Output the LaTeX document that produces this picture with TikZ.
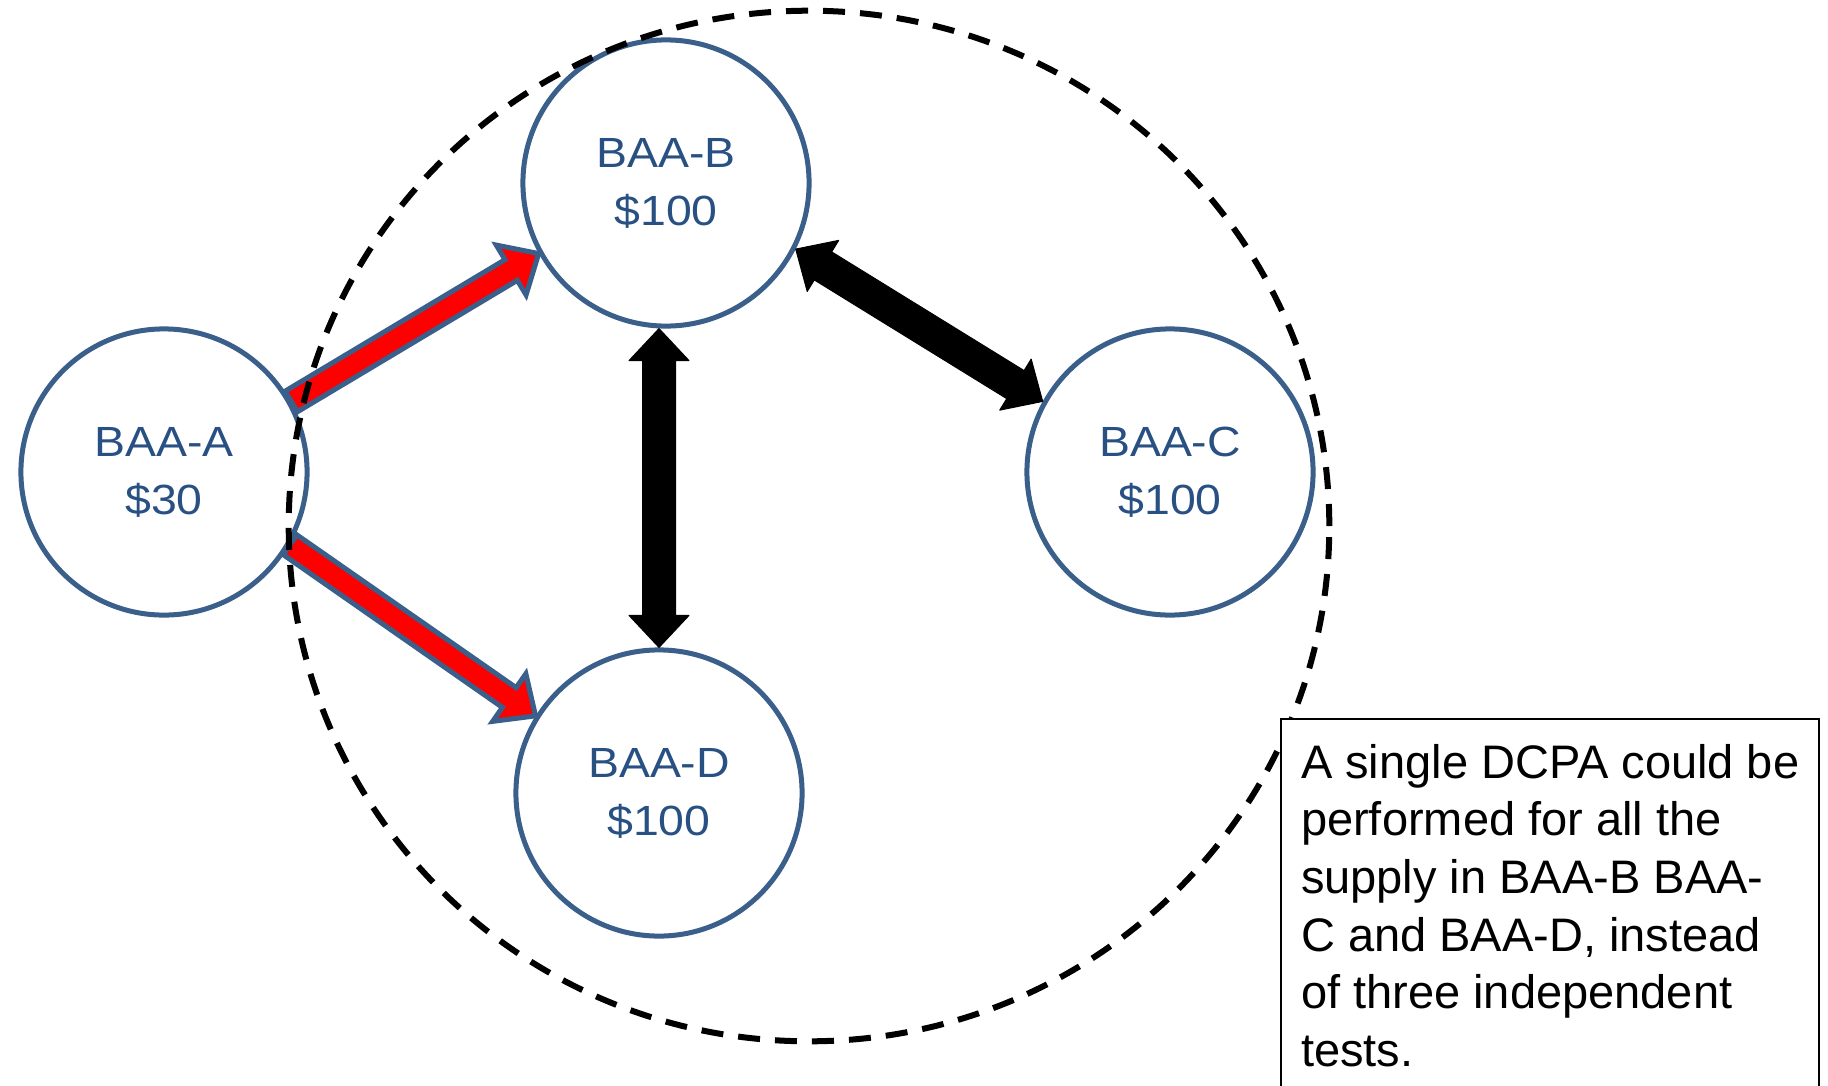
\documentclass[tikz,border=0pt]{standalone}
\usepackage{fontspec}
\setmainfont{Liberation Sans}
\usepackage{graphicx}
\usetikzlibrary{calc}

\definecolor{baaline}{RGB}{58,95,139}
\definecolor{baatext}{RGB}{40,80,130}

% two label lines, a little wider than the font
\newcommand{\lbl}[2]{\scalebox{1.1}[1]{#1}\\\scalebox{1.1}[1]{#2}}

% style, from, to, half shaft, half head
\newcommand{\singlearrow}[5]{%
 \path[#1] ($(#2)!#4!90:(#3)$)
  -- ($(#3)!0.32cm!(#2)!#4!-90:(#2)$)
  -- ($(#3)!0.32cm!(#2)!#5!-90:(#2)$)
  -- (#3)
  -- ($(#3)!0.32cm!(#2)!#5!90:(#2)$)
  -- ($(#3)!0.32cm!(#2)!#4!90:(#2)$)
  -- ($(#2)!#4!-90:(#3)$) -- cycle;}
\newcommand{\doublearrow}[5]{%
 \path[#1] (#2)
  -- ($(#2)!0.32cm!(#3)!#5!90:(#3)$)
  -- ($(#2)!0.32cm!(#3)!#4!90:(#3)$)
  -- ($(#3)!0.32cm!(#2)!#4!-90:(#2)$)
  -- ($(#3)!0.32cm!(#2)!#5!-90:(#2)$)
  -- (#3)
  -- ($(#3)!0.32cm!(#2)!#5!90:(#2)$)
  -- ($(#3)!0.32cm!(#2)!#4!90:(#2)$)
  -- ($(#2)!0.32cm!(#3)!#4!-90:(#3)$)
  -- ($(#2)!0.32cm!(#3)!#5!-90:(#3)$) -- cycle;}

\tikzset{
 baa/.style={circle, draw=baaline, line width=0.05cm, fill=white, minimum size=2.86cm,
   inner sep=0pt, align=center, text=baatext, font=\fontsize{12pt}{16.5pt}\selectfont},
 redarrow/.style={fill=red, draw=baaline, line width=0.05cm},
 blackarrow/.style={fill=black, draw=black, line width=0.01cm, line join=round},
 region/.style={draw, line width=0.06cm, dash pattern=on 0.22cm off 0.15cm},
 notebox/.style={draw, fill=white, line width=0.02cm, anchor=north west, inner xsep=0.2cm,
   inner ysep=0.25cm, align=left, font=\fontsize{13.37pt}{16.39pt}\selectfont}
}

\begin{document}
\begin{tikzpicture}[x=0.01cm, y=-0.01cm]
\clip (0,0) rectangle (1828,1085);
\fill[white] (0,0) rectangle (1828,1085);

\node[baa] (A) at (164,472) {\lbl{BAA-A}{\$30}};
\node[baa] (B) at (666,183) {\lbl{BAA-B}{\$100}};
\node[baa] (C) at (1170,472) {\lbl{BAA-C}{\$100}};
\node[baa] (D) at (659,793) {\lbl{BAA-D}{\$100}};
\coordinate (bs) at (D.north |- B.south);

\singlearrow{redarrow}{A.29}{B.209}{0.12cm}{0.29cm}
\singlearrow{redarrow}{A.-30}{D.148}{0.12cm}{0.29cm}
\doublearrow{blackarrow}{bs}{D.north}{0.165cm}{0.30cm}
\doublearrow{blackarrow}{B.-27}{C.151}{0.165cm}{0.30cm}

% the pooled region
\draw[region] (809,526) ellipse [x radius=5.2cm, y radius=5.15cm];

\node[notebox] (note) at (1280,718) {A single DCPA could be\\ performed for all the\\
 supply in BAA-B BAA-\\ C and BAA-D, instead\\ of three independent\\ tests.\\ ~};
\end{tikzpicture}
\end{document}
